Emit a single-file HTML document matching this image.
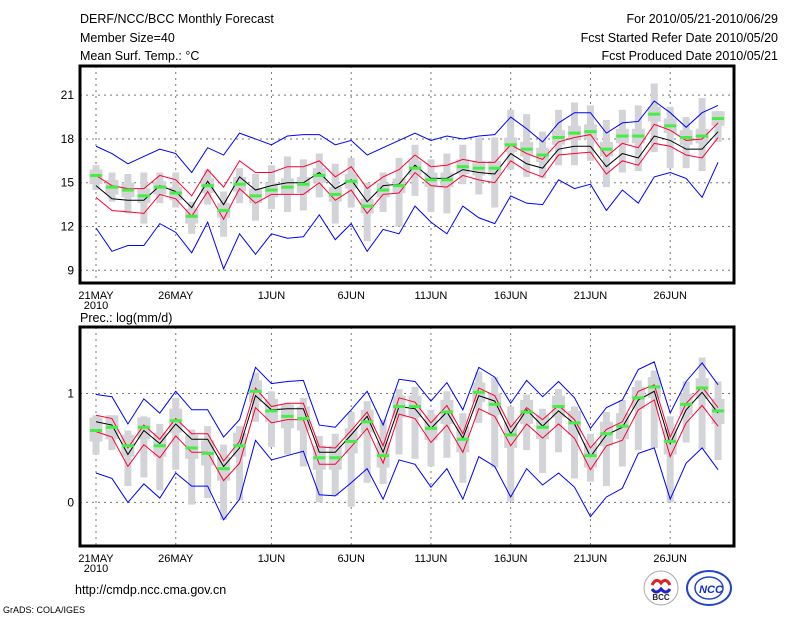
<!DOCTYPE html>
<html><head><meta charset="utf-8"><style>
html,body{margin:0;padding:0;background:#fff;}
svg{display:block;font-family:"Liberation Sans",sans-serif;}
</style></head><body>
<svg id="chart" width="800" height="618" viewBox="0 0 800 618" xmlns="http://www.w3.org/2000/svg">
<rect width="800" height="618" fill="#fff"/>
<g font-size="12.5" fill="#000">
<text x="80" y="23">DERF/NCC/BCC Monthly Forecast</text>
<text x="80" y="42">Member Size=40</text>
<text x="80" y="60">Mean Surf. Temp.: °C</text>
<text x="778" y="23" text-anchor="end">For 2010/05/21-2010/06/29</text>
<text x="778" y="42" text-anchor="end">Fcst Started Refer Date 2010/05/20</text>
<text x="778" y="60" text-anchor="end">Fcst Produced Date 2010/05/21</text>
<text x="80" y="322">Prec.: log(mm/d)</text>
<text x="75" y="594">http://cmdp.ncc.cma.gov.cn</text>
<text x="3" y="613" font-size="9">GrADS: COLA/IGES</text>
</g>
<g id="top"></g>
<g id="bot"></g>
<g>
<circle cx="661" cy="588" r="17" fill="#fff" stroke="#aaa" stroke-width="1"/>
<path d="M652 585 q4 -8 9 -2 q5 -6 9 2" fill="none" stroke="#d22" stroke-width="3"/>
<path d="M652 589 q4 6 9 0 q5 6 9 0" fill="none" stroke="#22c" stroke-width="3"/>
<text x="661" y="600" font-size="8" font-weight="bold" text-anchor="middle" fill="#223">BCC</text>
</g>
<g>
<ellipse cx="709" cy="588" rx="22" ry="17" fill="#fff" stroke="#24c" stroke-width="2"/>
<ellipse cx="709" cy="588" rx="14" ry="11" fill="none" stroke="#24c" stroke-width="1.5"/>
<text x="711" y="593" font-size="11" font-weight="bold" font-style="italic" text-anchor="middle" fill="#13b">NCC</text>
</g>
</svg>
<script>
const days = 40;
const dateLabels = ["21MAY","26MAY","1JUN","6JUN","11JUN","16JUN","21JUN","26JUN"];
const dateLabelDays = [0,5,11,16,21,26,31,36];
// temperature
const tBlueHi=[17.5,17.0,16.3,16.8,17.3,17.0,15.7,17.4,16.9,18.4,18.0,17.6,18.2,18.3,18.3,17.6,17.9,16.9,17.4,17.9,18.4,17.9,18.2,18.0,18.2,18.3,19.5,18.7,17.8,19.1,19.8,19.8,18.4,19.1,19.2,20.6,19.8,18.8,19.8,20.3];
const tBlueLo=[11.9,10.3,10.7,10.7,12.2,11.6,10.2,12.3,9.1,11.5,10.1,11.5,11.2,11.3,12.8,11.1,12.2,10.3,11.8,11.5,13.4,12.3,11.5,13.4,12.6,12.2,14.1,13.6,13.5,15.2,14.6,14.9,13.1,14.5,13.6,15.4,15.7,15.3,14.0,16.4];
const tRedHi=[15.5,14.8,14.6,14.6,15.5,15.2,14.1,15.9,14.7,16.5,15.7,15.7,16.1,16.1,16.5,15.4,16.1,14.6,15.4,15.9,16.9,16.1,16.2,16.6,16.4,16.4,17.6,17.0,16.6,17.8,18.1,18.3,16.8,17.7,17.4,19.0,18.6,17.9,18.0,19.1];
const tRedLo=[14.0,13.1,13.0,12.9,14.2,13.9,12.7,14.4,12.5,14.6,13.6,14.2,14.2,14.2,15.0,13.8,14.5,12.9,14.2,14.3,15.7,14.8,14.7,15.5,15.2,15.0,16.5,15.8,15.4,16.9,17.0,17.1,15.6,16.5,16.2,17.7,17.5,16.9,16.7,18.1];
const tMean=[14.8,13.9,13.8,13.8,14.8,14.4,13.3,15.1,13.5,15.4,14.5,14.8,15.0,15.0,15.7,14.6,15.2,13.7,14.8,14.9,16.2,15.3,15.3,15.9,15.7,15.6,17.0,16.3,16.0,17.3,17.5,17.5,16.1,17.0,16.7,18.2,17.9,17.3,17.3,18.5];
const tObs=[15.5,14.7,14.5,14.1,14.7,14.3,12.7,14.8,13.1,14.9,14.1,14.5,14.7,14.9,15.5,14.2,15.1,13.4,14.5,14.8,16.0,15.2,15.2,16.1,16.0,16.0,17.6,17.3,16.9,18.1,18.4,18.5,17.3,18.2,18.2,19.7,18.9,18.1,18.2,19.4];
const tWhiskHi=[16.2,15.7,15.6,15.7,15.7,15.7,13.7,15.9,14.4,16.0,15.6,16.2,16.8,16.6,17.0,16.3,16.7,15.0,15.7,16.7,17.6,16.6,17.0,17.6,18.1,18.1,20.0,19.7,18.5,20.0,20.5,20.3,19.3,20.0,20.3,21.8,20.2,19.5,20.8,19.9];
const tWhiskLo=[14.5,13.7,12.9,12.2,13.6,13.3,11.5,13.5,11.3,13.6,12.4,13.2,13.0,13.1,14.0,12.2,13.3,11.0,13.0,12.0,14.1,13.0,12.9,14.9,14.2,13.3,15.9,15.4,15.3,16.2,16.2,16.5,14.7,15.7,15.8,17.1,16.0,16.0,15.8,17.8];
const tBoxHi=[15.9,15.2,15.0,14.6,15.1,14.7,13.2,15.3,13.6,15.4,14.6,15.0,15.3,15.4,16.0,14.7,15.6,13.9,15.0,15.3,16.5,15.7,15.7,16.6,16.5,16.5,18.1,17.8,17.4,18.6,18.9,19.0,17.8,18.7,18.7,20.2,19.4,18.6,18.7,19.9];
const tBoxLo=[14.9,14.2,14.0,13.6,14.2,13.8,12.2,14.3,12.6,14.4,13.6,14.0,14.2,14.3,15.0,13.7,14.6,12.9,14.0,14.3,15.5,14.7,14.7,15.6,15.5,15.5,17.1,16.8,16.4,17.6,17.9,18.0,16.8,17.7,17.7,19.2,18.4,17.6,17.7,18.9];
const tTicks=[9,12,15,18,21];
// precipitation
const pBlueHi=[0.99,0.97,0.72,0.95,0.82,1.02,0.85,0.85,0.60,0.76,1.24,1.09,1.11,1.12,0.71,0.69,0.85,1.02,0.71,1.13,1.11,0.93,1.10,0.85,1.24,1.15,0.91,1.12,0.97,1.11,0.96,0.68,0.87,0.94,1.22,1.29,0.82,1.11,1.28,1.08];
const pBlueLo=[0.27,0.22,0.0,0.17,0.04,0.27,0.15,0.15,-0.16,0.03,0.57,0.39,0.43,0.47,0.07,0.06,0.18,0.31,0.03,0.39,0.35,0.14,0.31,0.03,0.42,0.33,0.05,0.31,0.16,0.27,0.14,-0.13,0.05,0.13,0.45,0.50,0.03,0.36,0.50,0.30];
const pRedHi=[0.80,0.77,0.50,0.71,0.58,0.77,0.63,0.63,0.38,0.56,1.05,0.88,0.91,0.91,0.51,0.50,0.66,0.83,0.52,0.96,0.92,0.73,0.89,0.63,1.05,0.98,0.69,0.87,0.76,0.89,0.76,0.50,0.67,0.74,1.02,1.08,0.60,0.91,1.06,0.87];
const pRedLo=[0.65,0.60,0.33,0.53,0.41,0.61,0.46,0.46,0.20,0.36,0.87,0.73,0.76,0.76,0.35,0.35,0.51,0.68,0.36,0.81,0.77,0.55,0.71,0.46,0.86,0.79,0.52,0.72,0.59,0.72,0.59,0.30,0.52,0.57,0.85,0.94,0.42,0.73,0.89,0.70];
const pMean=[0.74,0.71,0.44,0.66,0.54,0.72,0.58,0.58,0.33,0.50,0.98,0.85,0.86,0.86,0.46,0.46,0.62,0.79,0.46,0.88,0.86,0.68,0.83,0.59,0.98,0.93,0.63,0.85,0.70,0.84,0.72,0.42,0.62,0.69,0.94,1.02,0.54,0.85,1.01,0.82];
const pObs=[0.66,0.69,0.52,0.69,0.52,0.75,0.50,0.45,0.31,0.52,1.02,0.84,0.79,0.77,0.41,0.41,0.56,0.74,0.43,0.88,0.88,0.68,0.83,0.58,1.01,0.90,0.62,0.83,0.69,0.88,0.73,0.43,0.63,0.70,0.96,1.06,0.56,0.90,1.05,0.84];
const pWhiskHi=[0.80,0.80,0.66,0.79,0.72,0.96,0.67,0.70,0.53,0.70,1.19,1.02,0.91,0.96,0.61,0.63,0.83,0.93,0.76,1.04,1.06,0.85,1.02,0.82,1.20,1.15,0.88,0.99,0.86,1.04,0.88,0.63,0.83,0.94,1.12,1.21,0.79,1.11,1.33,1.11];
const pWhiskLo=[0.44,0.48,0.15,0.23,0.11,0.30,-0.02,0.04,-0.16,0.02,0.74,0.51,0.44,0.33,0.0,0.06,-0.04,0.18,0.17,0.44,0.40,0.33,0.41,0.18,0.73,0.32,0.01,0.48,0.27,0.46,0.22,0.19,0.15,0.33,0.48,0.50,0.0,0.55,0.49,0.39];
const pBoxHi=[0.78,0.80,0.62,0.78,0.64,0.86,0.62,0.57,0.42,0.64,1.12,0.95,0.90,0.88,0.52,0.52,0.68,0.85,0.55,0.98,0.98,0.80,0.94,0.70,1.10,1.00,0.74,0.94,0.80,0.98,0.84,0.55,0.74,0.82,1.06,1.15,0.68,1.00,1.14,0.95];
const pBoxLo=[0.56,0.58,0.42,0.58,0.42,0.64,0.40,0.34,0.20,0.42,0.92,0.74,0.68,0.66,0.30,0.30,0.45,0.64,0.32,0.78,0.78,0.57,0.72,0.46,0.92,0.80,0.50,0.72,0.58,0.78,0.62,0.32,0.52,0.58,0.86,0.96,0.44,0.80,0.95,0.72];
const pTicks=[0,1];

const NS="http://www.w3.org/2000/svg";
function mk(tag,attrs,parent){const e=document.createElementNS(NS,tag);for(const k in attrs)e.setAttribute(k,attrs[k]);parent.appendChild(e);return e;}
const xs=d=>96+d*15.95;

function panel(g,top,bot,vTop,vBot,ticks,S,prefix){
  const ys=v=>top+(vTop-v)/(vTop-vBot)*(bot-top);
  const L=80,R=734;
  for(const t of ticks){
    const l=mk('line',{x1:L,x2:R,y1:ys(t),y2:ys(t),stroke:'#777','stroke-dasharray':'2,4','stroke-width':1},g);
    
    
    const tx=mk('text',{x:74,y:ys(t)+4,'text-anchor':'end','font-size':12},g);
    tx.textContent=String(t);
    
    
  }
  dateLabelDays.forEach((d,i)=>{
    const l=mk('line',{x1:xs(d),x2:xs(d),y1:top,y2:bot,stroke:'#777','stroke-dasharray':'2,4','stroke-width':1},g);
    
    
    const tx=mk('text',{x:xs(d),y:bot+16,'text-anchor':'middle','font-size':11},g);
    tx.textContent=dateLabels[i];
    
    
  });
  const yr=mk('text',{x:96,y:bot+26,'text-anchor':'middle','font-size':11},g);
  yr.textContent='2010';
  
  
  for(let d=0;d<days;d++){
    const w=mk('rect',{x:xs(d)-3.5,y:ys(S.wh[d]),width:7,height:Math.max(1,ys(S.wl[d])-ys(S.wh[d])),fill:'#d3d4d8'},g);
    
    
    const b=mk('rect',{x:xs(d)-6.5,y:ys(S.bh[d]),width:13,height:Math.max(1,ys(S.bl[d])-ys(S.bh[d])),fill:'#d3d4d8'},g);
    
    
  }
  const line=(arr,col,name)=>{
    const p=mk('polyline',{points:arr.map((v,d)=>xs(d)+','+ys(v)).join(' '),fill:'none',stroke:col,'stroke-width':1},g);
    
    
  };
  line(S.bhi,'#0000ff',prefix+'-blue-upper');
  line(S.blo,'#0000ff',prefix+'-blue-lower');
  line(S.rhi,'#ff0033',prefix+'-red-upper');
  line(S.rlo,'#ff0033',prefix+'-red-lower');
  line(S.m,'#000',prefix+'-mean-line');
  for(let d=0;d<days;d++){
    const o=mk('rect',{x:xs(d)-6,y:ys(S.o[d])-1.5,width:12,height:3,fill:'#44ee44'},g);
    
    
  }
  const f=mk('rect',{x:L,y:top,width:R-L,height:bot-top,fill:'none',stroke:'#000','stroke-width':3},g);
  
  
}
panel(document.getElementById('top'),66,283,23.0,8.13,tTicks,
 {wh:tWhiskHi,wl:tWhiskLo,bh:tBoxHi,bl:tBoxLo,bhi:tBlueHi,blo:tBlueLo,rhi:tRedHi,rlo:tRedLo,m:tMean,o:tObs},'temp');
panel(document.getElementById('bot'),327,546,1.61,-0.40,pTicks,
 {wh:pWhiskHi,wl:pWhiskLo,bh:pBoxHi,bl:pBoxLo,bhi:pBlueHi,blo:pBlueLo,rhi:pRedHi,rlo:pRedLo,m:pMean,o:pObs},'precip');
</script>
</body></html>
